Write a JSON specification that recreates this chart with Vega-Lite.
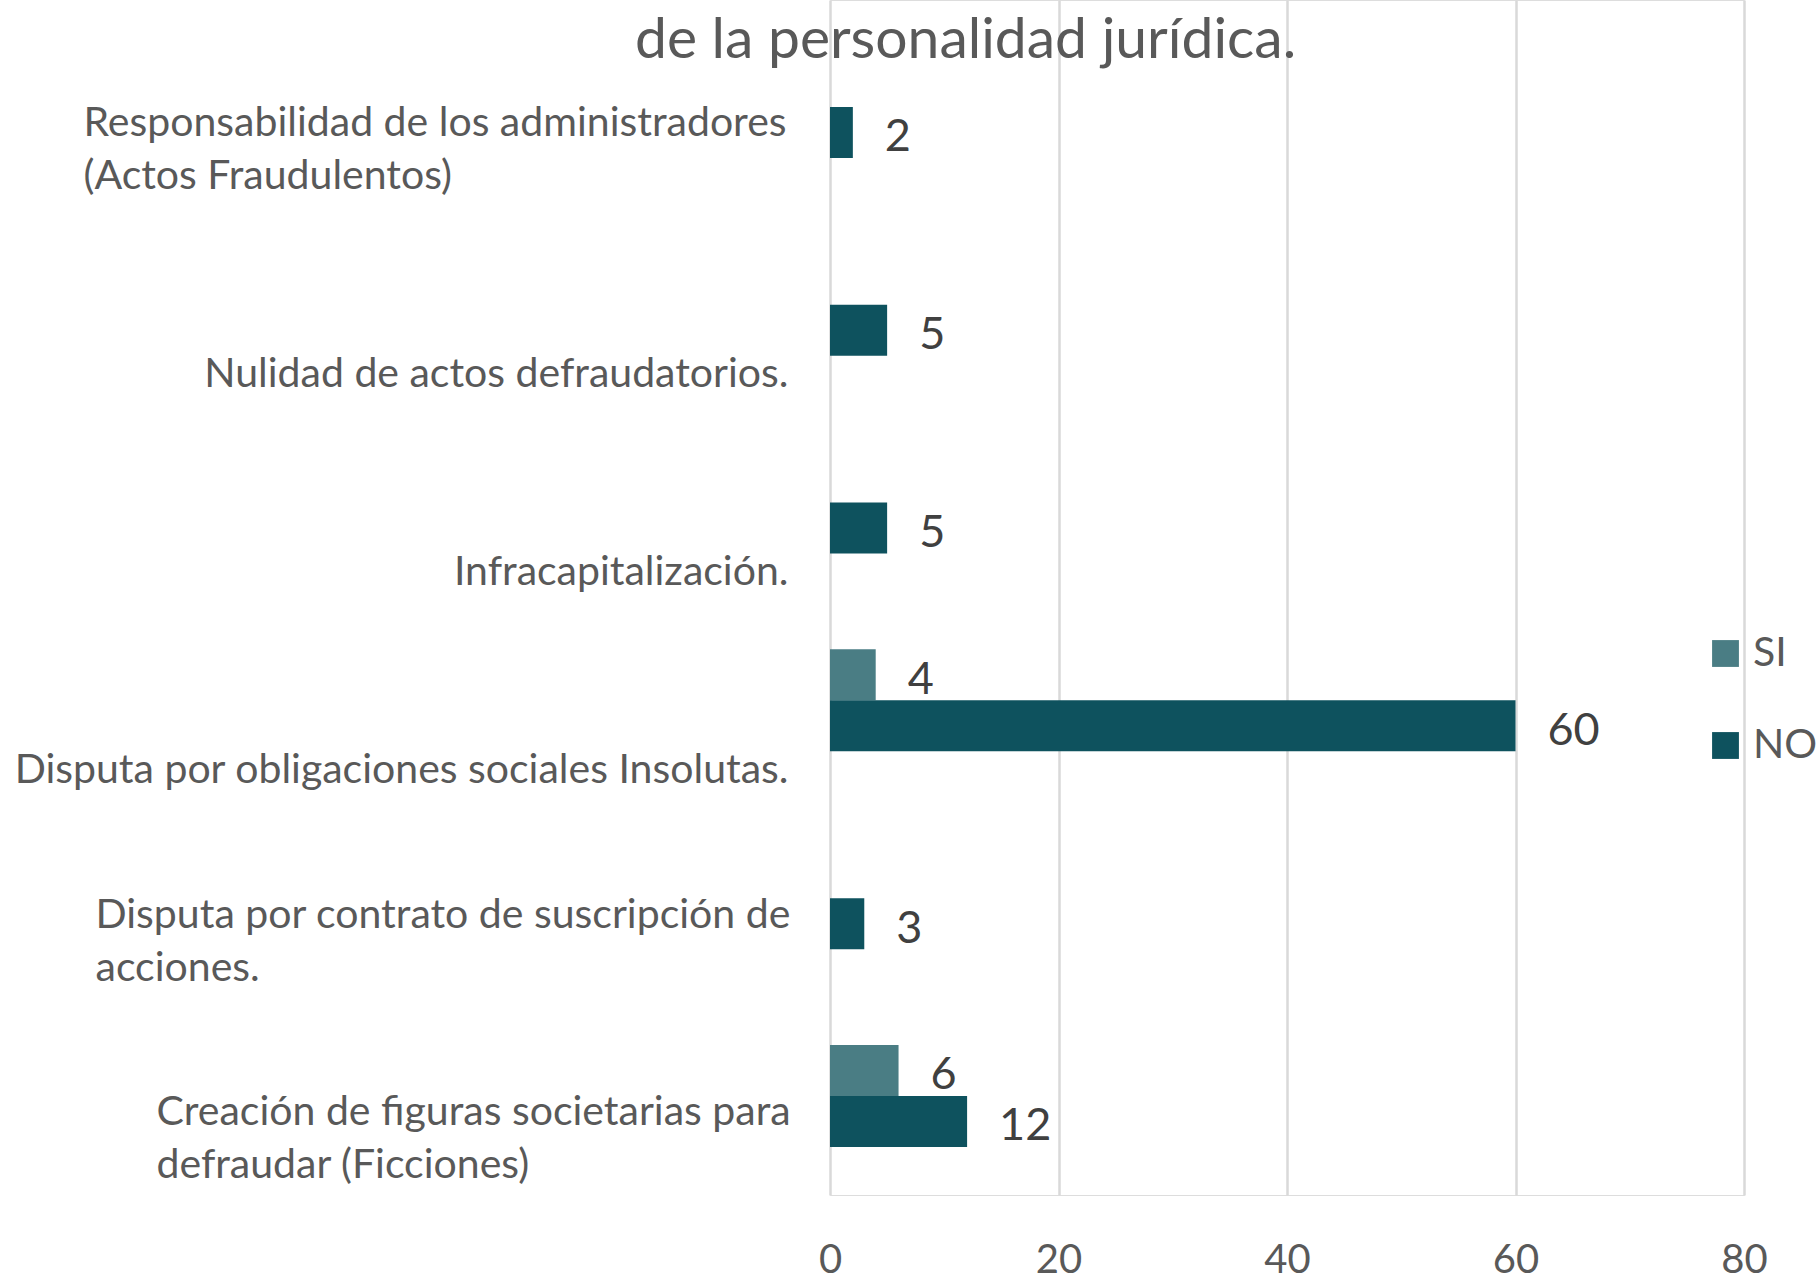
{
  "$schema": "https://vega.github.io/schema/vega-lite/v6.json",
  "width": 914,
  "height": 1195,
  "autosize": {"type": "none"},
  "padding": {"left": 830, "top": 0, "right": 74, "bottom": 91},
  "background": "white",
  "title": {
    "text": "de la personalidad jurídica.",
    "orient": "none",
    "anchor": "start",
    "frame": "group",
    "dx": -195,
    "dy": 58,
    "baseline": "alphabetic",
    "font": "Lato",
    "fontSize": 57,
    "fontWeight": "normal",
    "color": "#595959"
  },
  "data": {
    "values": [
      {"categoria": "Responsabilidad de los administradores (Actos Fraudulentos)", "serie": "NO", "valor": 2},
      {"categoria": "Nulidad de actos defraudatorios.", "serie": "NO", "valor": 5},
      {"categoria": "Infracapitalización.", "serie": "NO", "valor": 5},
      {"categoria": "Disputa por obligaciones sociales Insolutas.", "serie": "SI", "valor": 4},
      {"categoria": "Disputa por obligaciones sociales Insolutas.", "serie": "NO", "valor": 60},
      {"categoria": "Disputa por contrato de suscripción de acciones.", "serie": "NO", "valor": 3},
      {"categoria": "Creación de figuras societarias para defraudar (Ficciones)", "serie": "SI", "valor": 6},
      {"categoria": "Creación de figuras societarias para defraudar (Ficciones)", "serie": "NO", "valor": 12}
    ]
  },
  "encoding": {
    "y": {
      "field": "categoria",
      "type": "nominal",
      "sort": [
        "Responsabilidad de los administradores (Actos Fraudulentos)",
        "Nulidad de actos defraudatorios.",
        "Infracapitalización.",
        "Disputa por obligaciones sociales Insolutas.",
        "Disputa por contrato de suscripción de acciones.",
        "Creación de figuras societarias para defraudar (Ficciones)"
      ],
      "scale": {"paddingInner": 0.4843, "paddingOuter": 0.2629, "align": 0.538},
      "axis": {
        "title": null,
        "domain": false,
        "ticks": false,
        "grid": false,
        "labelFont": "Lato",
        "labelFontSize": 41,
        "labelColor": "#595959",
        "labelPadding": 42,
        "labelOffset": 44.5,
        "labelLineHeight": 53,
        "labelLimit": 1200,
        "labelBaseline": {
          "condition": {"test": "indexof(['Responsabilidad de los administradores (Actos Fraudulentos)', 'Disputa por contrato de suscripción de acciones.', 'Creación de figuras societarias para defraudar (Ficciones)'], datum.value) >= 0", "value": "line-bottom"},
          "value": "line-top"
        },
        "labelAlign": {
          "condition": {"test": "indexof(['Responsabilidad de los administradores (Actos Fraudulentos)', 'Disputa por contrato de suscripción de acciones.', 'Creación de figuras societarias para defraudar (Ficciones)'], datum.value) >= 0", "value": "left"},
          "value": "right"
        },
        "labelExpr": "datum.label == 'Responsabilidad de los administradores (Actos Fraudulentos)' ? ['Responsabilidad de los administradores', '(Actos Fraudulentos)'] : datum.label == 'Disputa por contrato de suscripción de acciones.' ? ['Disputa por contrato de suscripción de', 'acciones.'] : datum.label == 'Creación de figuras societarias para defraudar (Ficciones)' ? ['Creación de figuras societarias para', 'defraudar (Ficciones)'] : datum.label",
        "encoding": {
          "labels": {
            "dx": {
              "condition": [
                {"test": "datum.value == 'Responsabilidad de los administradores (Actos Fraudulentos)'", "value": -705},
                {"test": "datum.value == 'Disputa por contrato de suscripción de acciones.'", "value": -693},
                {"test": "datum.value == 'Creación de figuras societarias para defraudar (Ficciones)'", "value": -632}
              ],
              "value": 0
            }
          }
        }
      }
    },
    "yOffset": {
      "field": "serie",
      "type": "nominal",
      "scale": {"domain": ["SI", "NO"], "paddingInner": 0, "paddingOuter": 0}
    },
    "x": {
      "field": "valor",
      "type": "quantitative",
      "scale": {"domain": [0, 80]},
      "axis": {
        "title": null,
        "values": [0, 20, 40, 60, 80],
        "domain": false,
        "ticks": false,
        "grid": true,
        "gridColor": "#D9D9D9",
        "gridWidth": 2.5,
        "labelFont": "Lato",
        "labelFontSize": 40,
        "labelColor": "#595959",
        "labelPadding": 45,
        "labelFlush": false
      }
    }
  },
  "layer": [
    {
      "mark": {"type": "bar"},
      "encoding": {
        "color": {
          "field": "serie",
          "type": "nominal",
          "scale": {"domain": ["SI", "NO"], "range": ["#4A7D84", "#0E525E"]},
          "legend": {
            "title": null,
            "orient": "none",
            "legendX": 875,
            "legendY": 633,
            "symbolType": "square",
            "symbolSize": 720,
            "symbolStrokeWidth": 0,
            "symbolOpacity": 1,
            "labelFont": "Lato",
            "labelFontSize": 41,
            "labelColor": "#595959",
            "labelOffset": 7,
            "rowPadding": 50
          }
        }
      }
    },
    {
      "mark": {
        "type": "text",
        "align": "left",
        "baseline": "middle",
        "dx": 32,
        "dy": 5,
        "font": "Lato",
        "fontSize": 45,
        "color": "#404040"
      },
      "encoding": {
        "text": {"field": "valor", "type": "quantitative"}
      }
    }
  ]
}
